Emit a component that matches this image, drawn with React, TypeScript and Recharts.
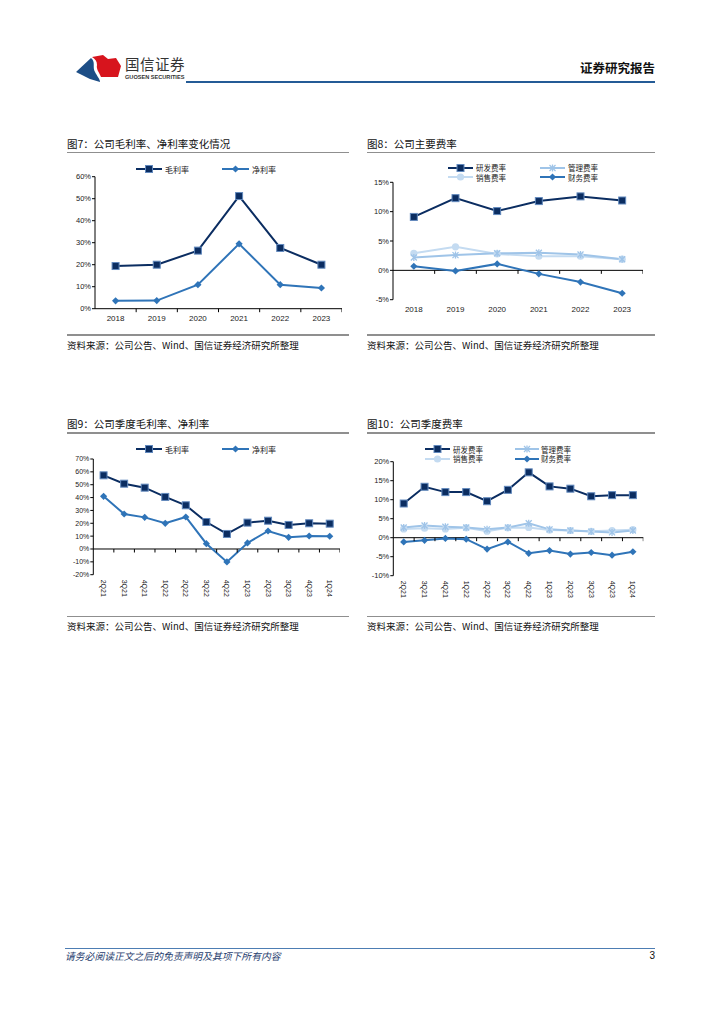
import React from 'react'
import { ComposedChart, Line, Scatter, XAxis, YAxis, ReferenceLine } from 'recharts'

// 年度数据（%）
const years = ['2018', '2019', '2020', '2021', '2022', '2023']
const grossYear = [19.4, 20.0, 26.4, 51.2, 27.6, 20.0]
const netYear = [3.6, 3.7, 10.9, 29.5, 10.9, 9.4]
const rdYear = [9.1, 12.3, 10.1, 11.8, 12.6, 11.9]
const mgmtYear = [2.2, 2.6, 2.9, 3.0, 2.7, 1.9]
const salesYear = [2.9, 4.0, 2.8, 2.4, 2.4, 1.9]
const finYear = [0.7, -0.1, 1.1, -0.6, -2.0, -3.9]

// 季度数据（%）
const quarters = ['2Q21', '3Q21', '4Q21', '1Q22', '2Q22', '3Q22', '4Q22', '1Q23', '2Q23', '3Q23', '4Q23', '1Q24']
const grossQ = [57.3, 50.8, 47.7, 40.5, 34.0, 21.0, 11.7, 20.5, 22.0, 18.7, 20.0, 19.7]
const netQ = [41.0, 27.2, 24.6, 20.0, 24.9, 4.1, -10.1, 4.7, 14.0, 9.1, 10.1, 9.9]
const rdQ = [9.0, 13.4, 12.0, 12.0, 9.6, 12.6, 17.2, 13.5, 12.9, 10.9, 11.2, 11.2]
const mgmtQ = [2.7, 3.2, 2.9, 2.7, 2.2, 2.7, 3.8, 2.2, 1.9, 1.6, 1.4, 1.9]
const salesQ = [2.3, 2.5, 2.3, 2.6, 1.7, 2.6, 2.7, 2.0, 1.9, 1.7, 1.9, 2.1]
const finQ = [-1.1, -0.7, -0.2, -0.4, -3.0, -1.1, -4.1, -3.4, -4.3, -3.9, -4.6, -3.7]

const ticksChart7 = [0, 10, 20, 30, 40, 50, 60]
const ticksChart8 = [-5, 0, 5, 10, 15]
const ticksChart9 = [-20, -10, 0, 10, 20, 30, 40, 50, 60, 70]
const ticksChart10 = [-10, -5, 0, 5, 10, 15, 20]

const FONT = '"Liberation Sans", Arial, "Noto Sans CJK SC", sans-serif'
const CJK = '"Noto Sans CJK SC", "Liberation Sans", sans-serif'

const NAVY = '#0b2d61'
const MID = '#2f74b8'
const LIGHT = '#9fc4e8'
const PALE = '#c4dbf1'

type MarkerKind = 'square' | 'diamond' | 'circle' | 'star'

interface Series {
  key: string
  name: string
  color: string
  marker: MarkerKind
  values: number[]
}

function Marker({ kind, cx, cy, color }: { kind: MarkerKind; cx: number; cy: number; color: string }) {
  if (kind === 'square')
    return <rect x={cx - 3.5} y={cy - 3.5} width={7} height={7} fill={color} stroke="#6289bd" strokeWidth={1} />
  if (kind === 'diamond')
    return <path d={`M${cx},${cy - 3.6}L${cx + 3.6},${cy}L${cx},${cy + 3.6}L${cx - 3.6},${cy}Z`} fill={color} />
  if (kind === 'circle') return <circle cx={cx} cy={cy} r={3.6} fill={color} />
  return (
    <g stroke={color} strokeWidth={1.3}>
      <line x1={cx - 3} y1={cy - 3} x2={cx + 3} y2={cy + 3} />
      <line x1={cx - 3} y1={cy + 3} x2={cx + 3} y2={cy - 3} />
      <line x1={cx} y1={cy - 3.5} x2={cx} y2={cy + 3.5} />
    </g>
  )
}

interface Box {
  left: number
  top: number
  width: number
  height: number
}
interface Plot {
  x0: number
  x1: number
  y0: number
  y1: number
}

function PanelChart({
  cats,
  series,
  yTicks,
  box,
  plot,
  rotate,
  xFont,
  yFont,
}: {
  cats: string[]
  series: Series[]
  yTicks: number[]
  box: Box
  plot: Plot
  rotate?: boolean
  xFont: number
  yFont: number
}) {
  const rows = cats.map((c, i) => {
    const r: Record<string, number | string> = { x: i + 0.5, cat: c }
    series.forEach((s) => (r[s.key] = s.values[i]))
    return r
  })
  // 类别之间的刻度线（画在 0 轴上）
  const bounds = cats.map((_, i) => ({ x: i + 1, y: 0 }))
  const centers = cats.map((_, i) => i + 0.5)
  const labelOf = (v: number) => cats[Math.round(v - 0.5)] ?? ''

  const RotTick = (p: any) => (
    <text
      x={p.x}
      y={p.y}
      transform={`rotate(90 ${p.x} ${p.y})`}
      textAnchor="start"
      dominantBaseline="central"
      fontSize={xFont}
      fill="#222"
      fontFamily={FONT}
    >
      {labelOf(p.payload.value)}
    </text>
  )

  return (
    <div style={{ position: 'absolute', left: box.left, top: box.top }}>
      <ComposedChart
        width={box.width}
        height={box.height}
        data={rows}
        margin={{ top: plot.y0 - box.top, right: box.left + box.width - plot.x1, bottom: 0, left: 0 }}
      >
        <XAxis
          dataKey="x"
          type="number"
          domain={[0, cats.length]}
          ticks={centers}
          interval={0}
          allowDataOverflow
          tickFormatter={labelOf}
          axisLine={false}
          tickLine={false}
          tickSize={rotate ? 3 : 4}
          tickMargin={rotate ? 2 : 3}
          height={box.top + box.height - plot.y1}
          tick={rotate ? RotTick : { fontSize: xFont, fill: '#222', fontFamily: FONT }}
        />
        <YAxis
          type="number"
          domain={[yTicks[0], yTicks[yTicks.length - 1]]}
          ticks={yTicks}
          interval={0}
          width={plot.x0 - box.left}
          tickFormatter={(v) => `${v}%`}
          axisLine={{ stroke: '#000', strokeWidth: 1 }}
          tickLine={{ stroke: '#000', strokeWidth: 1 }}
          tickSize={3}
          tickMargin={1}
          tick={{ fontSize: yFont, fill: '#222', fontFamily: FONT }}
        />
        <ReferenceLine y={0} stroke="#000" strokeWidth={1} />
        <Scatter
          data={bounds}
          dataKey="y"
          isAnimationActive={false}
          shape={(p: any) => <line x1={p.cx} x2={p.cx} y1={p.cy} y2={p.cy + 3.5} stroke="#000" strokeWidth={1} />}
        />
        {series.map((s) => (
          <Line
            key={s.key}
            dataKey={s.key}
            name={s.name}
            stroke={s.color}
            strokeWidth={2}
            type="linear"
            isAnimationActive={false}
            dot={(p: any) => <Marker key={`${s.key}-${p.index}`} kind={s.marker} cx={p.cx} cy={p.cy} color={s.color} />}
            activeDot={false}
          />
        ))}
      </ComposedChart>
    </div>
  )
}

function LegendItem({
  s,
  left,
  top,
  lineW,
  gap,
  font,
}: {
  s: Series
  left: number
  top: number
  lineW: number
  gap: number
  font: number
}) {
  return (
    <div style={{ position: 'absolute', left, top: top - 5, height: 10, display: 'flex', alignItems: 'center' }}>
      <svg width={lineW} height={10} style={{ display: 'block', overflow: 'visible' }}>
        <line x1={0} x2={lineW} y1={5} y2={5} stroke={s.color} strokeWidth={2} />
        <Marker kind={s.marker} cx={lineW / 2} cy={5} color={s.color} />
      </svg>
      <span
        style={{
          marginLeft: gap,
          fontSize: font,
          fontFamily: CJK,
          color: '#222',
          whiteSpace: 'nowrap',
          lineHeight: '9px',
          display: 'inline-block',
          height: 9,
        }}
      >
        {s.name}
      </span>
    </div>
  )
}

function Frame({ left, right, title, titleTop, ruleTop, srcRule, srcTop }: any) {
  return (
    <>
      <div
        style={{
          position: 'absolute',
          left,
          top: titleTop,
          fontSize: 10.5,
          fontFamily: CJK,
          color: '#111',
          whiteSpace: 'nowrap',
          lineHeight: '12px',
        }}
      >
        {title}
      </div>
      <div style={{ position: 'absolute', left, width: right - left, top: ruleTop, height: 1.5, background: '#8f8f8f' }} />
      <div style={{ position: 'absolute', left, width: right - left, top: srcRule, height: 1.5, background: '#8f8f8f' }} />
      <div
        style={{
          position: 'absolute',
          left,
          top: srcTop,
          fontSize: 9.5,
          fontFamily: CJK,
          color: '#111',
          whiteSpace: 'nowrap',
          lineHeight: '12px',
        }}
      >
        资料来源：公司公告、Wind、国信证券经济研究所整理
      </div>
    </>
  )
}

export default function App() {
  const s7: Series[] = [
    { key: 'gross', name: '毛利率', color: NAVY, marker: 'square', values: grossYear },
    { key: 'net', name: '净利率', color: MID, marker: 'diamond', values: netYear },
  ]
  const s8: Series[] = [
    { key: 'sales', name: '销售费率', color: PALE, marker: 'circle', values: salesYear },
    { key: 'mgmt', name: '管理费率', color: LIGHT, marker: 'star', values: mgmtYear },
    { key: 'fin', name: '财务费率', color: MID, marker: 'diamond', values: finYear },
    { key: 'rd', name: '研发费率', color: NAVY, marker: 'square', values: rdYear },
  ]
  const s9: Series[] = [
    { key: 'gross', name: '毛利率', color: NAVY, marker: 'square', values: grossQ },
    { key: 'net', name: '净利率', color: MID, marker: 'diamond', values: netQ },
  ]
  const s10: Series[] = [
    { key: 'sales', name: '销售费率', color: PALE, marker: 'circle', values: salesQ },
    { key: 'mgmt', name: '管理费率', color: LIGHT, marker: 'star', values: mgmtQ },
    { key: 'fin', name: '财务费率', color: MID, marker: 'diamond', values: finQ },
    { key: 'rd', name: '研发费率', color: NAVY, marker: 'square', values: rdQ },
  ]
  const find = (arr: Series[], k: string) => arr.find((s) => s.key === k)!

  return (
    <div
      style={{
        position: 'absolute',
        left: 0,
        top: 0,
        width: 724,
        height: 1024,
        background: '#fff',
        overflow: 'hidden',
        fontFamily: FONT,
      }}
    >
      {/* 页眉 */}
      <svg style={{ position: 'absolute', left: 70, top: 50 }} width={56} height={36} viewBox="70 50 56 36">
        <path d="M76,72 L91,58 C96,62 92,67 95,72 C97,76 100,79 100,82 L90,79 Z" fill="#1d4e86" />
        <path
          d="M92,57 L103,55 L108,59 L116,58 L121,66 L118,77 L101,77 C99,72 96,69 97,65 C97,61 95,59 92,57 Z"
          fill="#d7141d"
        />
      </svg>
      <div style={{ position: 'absolute', left: 125, top: 55, fontSize: 14.5, fontFamily: CJK, color: '#333', lineHeight: '17px', letterSpacing: 0.5 }}>
        国信证券
      </div>
      <div style={{ position: 'absolute', left: 125, top: 74, fontSize: 5.6, fontFamily: FONT, color: '#333', fontWeight: 700, lineHeight: '7px' }}>
        GUOSEN SECURITIES
      </div>
      <div style={{ position: 'absolute', right: 69, top: 61, fontSize: 12.5, fontFamily: CJK, fontWeight: 700, color: '#111', lineHeight: '14px' }}>
        证券研究报告
      </div>
      <div style={{ position: 'absolute', left: 186, top: 81, width: 469, height: 2, background: '#245b96' }} />

      {/* 图7 */}
      <Frame left={67} right={349} title="图7：公司毛利率、净利率变化情况" titleTop={138} ruleTop={151.5} srcRule={334} srcTop={339} />
      <LegendItem s={s7[0]} left={136} top={169} lineW={26} gap={3} font={8} />
      <LegendItem s={s7[1]} left={222} top={169} lineW={27} gap={3} font={8} />
      <PanelChart
        cats={years}
        series={s7}
        yTicks={ticksChart7}
        box={{ left: 60, top: 160, width: 290, height: 170 }}
        plot={{ x0: 95, x1: 342, y0: 176.7, y1: 308.7 }}
        xFont={8}
        yFont={7.5}
      />

      {/* 图8 */}
      <Frame left={367} right={655} title="图8：公司主要费率" titleTop={138} ruleTop={151.5} srcRule={334} srcTop={339} />
      <LegendItem s={find(s8, 'rd')} left={448} top={167.5} lineW={25} gap={3} font={7.5} />
      <LegendItem s={find(s8, 'mgmt')} left={540} top={167.5} lineW={25} gap={3} font={7.5} />
      <LegendItem s={find(s8, 'sales')} left={448} top={177} lineW={25} gap={3} font={7.5} />
      <LegendItem s={find(s8, 'fin')} left={540} top={177} lineW={25} gap={3} font={7.5} />
      <PanelChart
        cats={years}
        series={s8}
        yTicks={ticksChart8}
        box={{ left: 360, top: 160, width: 300, height: 170 }}
        plot={{ x0: 393, x1: 643, y0: 182.3, y1: 299.7 }}
        xFont={8}
        yFont={7.5}
      />

      {/* 图9 */}
      <Frame left={67} right={349} title="图9：公司季度毛利率、净利率" titleTop={418} ruleTop={432} srcRule={615.5} srcTop={620} />
      <LegendItem s={s9[0]} left={136} top={449} lineW={26} gap={3} font={8} />
      <LegendItem s={s9[1]} left={222} top={449} lineW={27} gap={3} font={8} />
      <PanelChart
        cats={quarters}
        series={s9}
        yTicks={ticksChart9}
        box={{ left: 60, top: 440, width: 290, height: 180 }}
        plot={{ x0: 93.3, x1: 340, y0: 459, y1: 574.7 }}
        rotate
        xFont={7}
        yFont={7}
      />

      {/* 图10 */}
      <Frame left={367} right={655} title="图10：公司季度费率" titleTop={418} ruleTop={432} srcRule={615.5} srcTop={620} />
      <LegendItem s={find(s10, 'rd')} left={425} top={449} lineW={25} gap={3} font={7.5} />
      <LegendItem s={find(s10, 'mgmt')} left={515} top={449} lineW={24} gap={2} font={7.5} />
      <LegendItem s={find(s10, 'sales')} left={425} top={458.7} lineW={25} gap={3} font={7.5} />
      <LegendItem s={find(s10, 'fin')} left={515} top={458.7} lineW={24} gap={2} font={7.5} />
      <PanelChart
        cats={quarters}
        series={s10}
        yTicks={ticksChart10}
        box={{ left: 360, top: 440, width: 300, height: 180 }}
        plot={{ x0: 393.3, x1: 643.3, y0: 461.7, y1: 575.7 }}
        rotate
        xFont={7}
        yFont={7.5}
      />

      {/* 页脚 */}
      <div style={{ position: 'absolute', left: 65, top: 948, width: 590, height: 1, background: '#4d7db3' }} />
      <div
        style={{
          position: 'absolute',
          left: 65,
          top: 950,
          fontSize: 9.8,
          fontFamily: CJK,
          fontStyle: 'italic',
          color: '#1f3d6e',
          lineHeight: '12px',
          whiteSpace: 'nowrap',
        }}
      >
        请务必阅读正文之后的免责声明及其项下所有内容
      </div>
      <div style={{ position: 'absolute', right: 69, top: 950, fontSize: 10, fontFamily: FONT, color: '#111', lineHeight: '12px' }}>
        3
      </div>
    </div>
  )
}
